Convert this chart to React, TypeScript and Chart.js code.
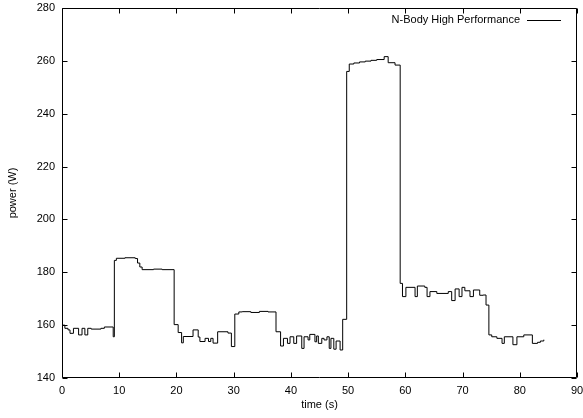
import React, { useEffect, useRef } from "react";
import { Chart, registerables } from "chart.js";

Chart.register(...registerables);

const seriesLabel = "N-Body High Performance";
const xTitle = "time (s)";
const yTitle = "power (W)";

// change points: time (s) where a new power level starts
const times = [
  0, 0.5, 1.05, 1.4, 2.0, 2.9, 3.5, 4.0, 4.5, 5.1, 6.8, 7.4, 8.95,
  9.15, 9.5, 11, 12.8, 13.2, 13.6, 14.0, 16, 17.5, 19.6,
  20.3, 20.9, 21.2, 22.9, 23.8, 24.1, 25.0, 25.6, 26.0, 26.4, 27.2, 29.0, 29.6,
  30.2, 30.9, 31.5, 33, 34.5, 36, 37.4, 38.2,
  38.7, 39.4, 39.85, 40.5, 41.0, 41.9, 42.3, 43.0, 43.3, 44.2, 44.5, 44.8,
  45.4, 45.8, 46.3, 46.7, 47.0, 47.5, 47.9, 48.6, 49.05, 49.75,
  50.2, 51, 52, 53, 54, 55, 56.3, 57.0, 58.2, 59.1, 59.5, 60.1, 61.7, 62.1,
  63.4, 63.8, 64.3, 65.5, 67.5, 68.1, 68.7, 69.4, 69.9, 70.4, 71.3, 71.9,
  73.0, 73.6, 74.1, 74.6, 75.1, 76.0, 76.9, 77.3, 78.8, 79.5, 80.7, 82.2,
  83.1, 83.6, 84.2,
];
const power = [
  160, 158.8, 158.2, 156.9, 158.8, 156.3, 158.8, 156.3, 158.8, 158.5, 158.8, 159.3, 155.6,
  184.5, 185.3, 185.5, 185.2, 183.5, 182, 181, 181.2, 181, 160.2,
  157.2, 153.3, 155.7, 158.2, 155.5, 153.8, 155, 153.8, 155, 153.2, 157.5, 157, 151.9,
  164.2, 165, 165.1, 164.8, 165.2, 165, 157.5, 152.1,
  155.0, 153.1, 155.6, 153.1, 155.9, 151.2, 155.6, 154.4, 156.5, 153.7, 155.9, 153.1,
  155.0, 154.4, 155.6, 151.2, 155.0, 150.9, 154.0, 150.6, 162.2, 256,
  258.8, 259.2, 259.6, 259.9, 260.2, 260.5, 261.6, 259.3, 258.4, 175.8, 170.8, 174.3, 170.8, 174.8,
  174.3, 170.8, 172.7, 172.0, 172.7, 169.3, 173.7, 170.8, 174.3, 173.0, 170.8, 173.3,
  171.3, 171.4, 167.6, 156.3, 155.6, 155, 153.1, 155.6, 152.6, 155.6, 156.3, 153.1,
  153.5, 154, 154.5,
];

const xMin = 0, xMax = 90, xStep = 10;
const yMin = 140, yMax = 280, yStep = 20;

const FONT = "'Liberation Sans', Arial, Helvetica, sans-serif";

const framePlugin = {
  id: "gnuplotFrame",
  afterDraw(chart: any) {
    const { ctx, chartArea } = chart;
    const { left, right, top, bottom } = chartArea;
    const xs = chart.scales.x;
    const ys = chart.scales.y;
    const tl = 5;
    ctx.save();
    ctx.strokeStyle = "#000";
    ctx.lineWidth = 1;
    ctx.beginPath();
    const L = Math.round(left) + 0.5, R = Math.round(right) - 0.5;
    const T = Math.round(top) + 0.5, B = Math.round(bottom) - 0.5;
    ctx.rect(L, T, R - L, B - T);
    xs.ticks.forEach((t: any) => {
      const px = Math.round(xs.getPixelForValue(t.value)) + 0.5;
      ctx.moveTo(px, B); ctx.lineTo(px, B - tl);
      ctx.moveTo(px, T); ctx.lineTo(px, T + tl);
    });
    ys.ticks.forEach((t: any) => {
      const py = Math.round(ys.getPixelForValue(t.value)) + 0.5;
      ctx.moveTo(L, py); ctx.lineTo(L + tl, py);
      ctx.moveTo(R, py); ctx.lineTo(R - tl, py);
    });
    ctx.stroke();
    // legend
    const ly = top + 12;
    ctx.font = `11px ${FONT}`;
    ctx.fillStyle = "#000";
    ctx.textAlign = "right";
    ctx.textBaseline = "middle";
    ctx.fillText(chart.data.datasets[0].label, 520, ly);
    ctx.beginPath();
    ctx.moveTo(527, Math.round(ly) + 0.5);
    ctx.lineTo(561, Math.round(ly) + 0.5);
    ctx.stroke();
    ctx.restore();
  },
};

export default function App() {
  const ref = useRef<HTMLCanvasElement>(null);
  useEffect(() => {
    if (!ref.current) return;
    const data = times.map((t, i) => ({ x: t, y: power[i] }));
    const chart = new Chart(ref.current, {
      type: "line",
      data: {
        datasets: [
          {
            label: seriesLabel,
            data,
            borderColor: "#000",
            borderWidth: 1,
            pointRadius: 0,
            stepped: true,
            fill: false,
          },
        ],
      },
      options: {
        animation: false,
        responsive: false,
        maintainAspectRatio: false,
        layout: { padding: { top: 8, right: 6, left: 0, bottom: 0 } },
        plugins: { legend: { display: false }, tooltip: { enabled: false } },
        scales: {
          x: {
            type: "linear",
            min: xMin,
            max: xMax,
            grid: { display: false, drawTicks: false },
            border: { display: false },
            ticks: { stepSize: xStep, color: "#000", font: { family: FONT, size: 11 }, padding: 6, maxRotation: 0 },
            title: { display: true, text: xTitle, color: "#000", font: { family: FONT, size: 11 }, padding: { top: 0, bottom: 6 } },
            afterFit(scale: any) {
              scale.height = 40;
              scale.paddingLeft = 0;
              scale.paddingRight = 0;
            },
          },
          y: {
            type: "linear",
            min: yMin,
            max: yMax,
            grid: { display: false, drawTicks: false },
            border: { display: false },
            ticks: { stepSize: yStep, color: "#000", font: { family: FONT, size: 11 }, padding: 7 },
            title: { display: true, text: yTitle, color: "#000", font: { family: FONT, size: 11 }, padding: { top: 6, bottom: 0 } },
            afterFit(scale: any) {
              scale.width = 62;
              scale.paddingTop = 0;
              scale.paddingBottom = 0;
            },
          },
        },
      },
      plugins: [framePlugin],
    });
    return () => chart.destroy();
  }, []);
  return (
    <div style={{ position: "fixed", left: 0, top: 0, width: 583, height: 418, background: "#fff" }}>
      <canvas ref={ref} width={583} height={418} />
    </div>
  );
}
